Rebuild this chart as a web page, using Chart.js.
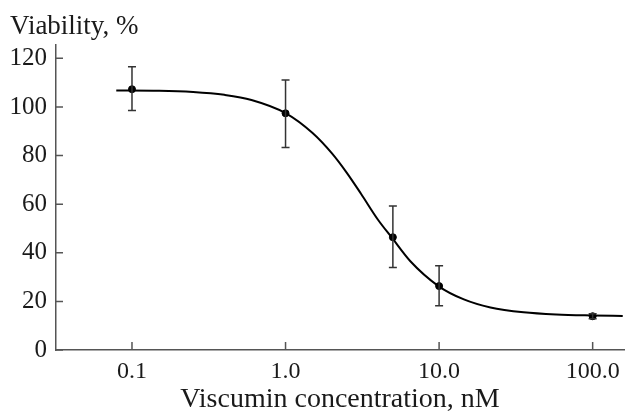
<!DOCTYPE html>
<html>
<head>
<meta charset="utf-8">
<script src="https://cdn.jsdelivr.net/npm/chart.js@4/dist/chart.umd.min.js"></script>
<style>
  html, body { margin: 0; padding: 0; background: #fff; }
  #wrap { width: 629px; height: 412px; }
</style>
</head>
<body>
<div id="wrap"><canvas id="viabilityChart"></canvas></div>
<script>
// measured points (nM, % viability) with error bars
const concentrations = [0.1, 1, 5, 10, 100];
const viability = [107.3, 97.4, 46.4, 26.3, 13.9];
const errLow = [98.5, 83.3, 33.9, 18.2, 12.9];
const errHigh = [116.6, 111.1, 59.3, 34.7, 14.9];

// fitted curve
const fitX = [0.079, 0.15, 0.25, 0.4, 0.6, 1.0, 1.5, 2.0, 2.5, 3.1, 4.0, 4.9, 6.5, 9.9, 14.5, 21.6, 35.5, 58, 99, 157];
const fitY = [106.8, 106.7, 106.2, 105.0, 102.9, 97.5, 89.3, 81.0, 73.0, 64.3, 53.6, 46.4, 36.5, 26.3, 20.8, 17.5, 15.5, 14.6, 14.2, 14.0];

const xTicks = [0.1, 1, 10, 100];
const xTickLabels = ['0.1', '1.0', '10.0', '100.0'];
const yTicks = [0, 20, 40, 60, 80, 100, 120];

const FONT = 'Liberation Serif';
const AXIS_COLOR = '#555';
const TEXT_COLOR = '#1a1a1a';

// error bars drawn through the chart scales
const errorBars = {
  id: 'errorBars',
  afterDatasetsDraw(chart) {
    const { ctx, scales: { x, y } } = chart;
    ctx.save();
    ctx.strokeStyle = '#333';
    ctx.lineWidth = 1.5;
    concentrations.forEach((c, i) => {
      const px = x.getPixelForValue(c);
      const top = y.getPixelForValue(errHigh[i]);
      const bot = y.getPixelForValue(errLow[i]);
      ctx.beginPath();
      ctx.moveTo(px, top); ctx.lineTo(px, bot);
      ctx.moveTo(px - 4, top); ctx.lineTo(px + 4, top);
      ctx.moveTo(px - 4, bot); ctx.lineTo(px + 4, bot);
      ctx.stroke();
    });
    ctx.restore();
  }
};

// tick marks pointing into the plot
const innerTicks = {
  id: 'innerTicks',
  afterDraw(chart) {
    const { ctx, chartArea, scales: { x, y } } = chart;
    ctx.save();
    ctx.strokeStyle = AXIS_COLOR;
    ctx.lineWidth = 1.5;
    ctx.beginPath();
    xTicks.forEach(v => {
      const px = x.getPixelForValue(v);
      ctx.moveTo(px, chartArea.bottom); ctx.lineTo(px, chartArea.bottom - 8);
    });
    yTicks.forEach(v => {
      const py = y.getPixelForValue(v);
      ctx.moveTo(chartArea.left, py); ctx.lineTo(chartArea.left + 7, py);
    });
    ctx.stroke();
    ctx.restore();
  }
};

new Chart(document.getElementById('viabilityChart'), {
  type: 'scatter',
  data: {
    datasets: [
      {
        label: 'Measured',
        data: concentrations.map((c, i) => ({ x: c, y: viability[i] })),
        backgroundColor: '#000',
        borderColor: '#000',
        pointRadius: 3.5,
        order: 0
      },
      {
        label: 'Fit',
        type: 'line',
        data: fitX.map((c, i) => ({ x: c, y: fitY[i] })),
        borderColor: '#000',
        borderWidth: 2,
        pointRadius: 0,
        cubicInterpolationMode: 'monotone',
        fill: false,
        order: 1
      }
    ]
  },
  options: {
    responsive: true,
    maintainAspectRatio: false,
    animation: false,
    layout: { padding: { left: 10, right: 1, top: 0, bottom: 0 } },
    plugins: {
      legend: { display: false },
      tooltip: { enabled: false },
      title: {
        display: true,
        text: 'Viability, %',
        align: 'start',
        color: TEXT_COLOR,
        font: { family: FONT, size: 27, weight: 'normal', lineHeight: 1.2 },
        padding: { top: 11, bottom: 1.6 }
      }
    },
    scales: {
      x: {
        type: 'logarithmic',
        min: 0.032,
        max: 160,
        afterBuildTicks: s => { s.ticks = xTicks.map(v => ({ value: v })); },
        afterFit: s => { s.height = 62; },
        grid: { display: false, drawTicks: false },
        border: { display: true, color: AXIS_COLOR, width: 1.5 },
        ticks: {
          padding: 7,
          color: TEXT_COLOR,
          font: { family: FONT, size: 24 },
          maxRotation: 0,
          callback: v => xTickLabels[xTicks.indexOf(v)] ?? ''
        },
        title: {
          display: true,
          text: 'Viscumin concentration, nM',
          color: TEXT_COLOR,
          font: { family: FONT, size: 28, lineHeight: 1 },
          padding: { top: 0, bottom: -2 }
        }
      },
      y: {
        min: 0,
        max: 125.5,
        afterBuildTicks: s => { s.ticks = yTicks.map(v => ({ value: v })); },
        afterFit: s => { s.width = 46; },
        grid: { display: false, drawTicks: false },
        border: { display: true, color: AXIS_COLOR, width: 1.5 },
        ticks: {
          padding: 9,
          color: TEXT_COLOR,
          font: { family: FONT, size: 25 }
        }
      }
    }
  },
  plugins: [errorBars, innerTicks]
});
</script>
</body>
</html>
